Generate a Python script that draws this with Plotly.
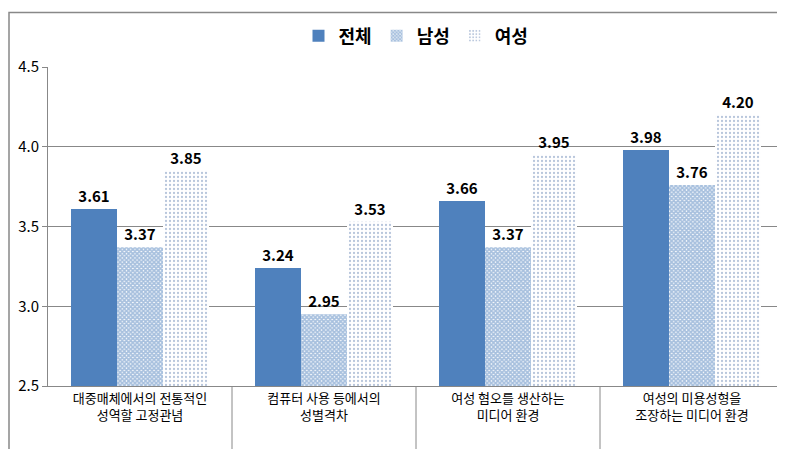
import plotly.graph_objects as go

categories = ["대중매체에서의 전통적인<br>성역할 고정관념", "컴퓨터 사용 등에서의<br>성별격차",
              "여성 혐오를 생산하는<br>미디어 환경", "여성의 미용성형을<br>조장하는 미디어 환경"]
total = [3.61, 3.24, 3.66, 3.98]
male = [3.37, 2.95, 3.37, 3.76]
female = [3.85, 3.53, 3.95, 4.20]

blue = "#4F81BD"
fnt = dict(family="Malgun Gothic, Noto Sans CJK KR, sans-serif", color="black")

fig = go.Figure()
fig.add_bar(name="<b>전체</b>", x=categories, y=total, marker_color=blue,
            text=[f"<b>{v:.2f}</b>" for v in total])
fig.add_bar(name="<b>남성</b>", x=categories, y=male,
            marker=dict(color="white", pattern=dict(shape="x", fgcolor=blue, bgcolor="white",
                                                    size=3, solidity=0.8)),
            text=[f"<b>{v:.2f}</b>" for v in male])
fig.add_bar(name="<b>여성</b>", x=categories, y=female,
            marker=dict(color="white", pattern=dict(shape=".", fgcolor="#6F8BB8", bgcolor="white",
                                                    size=4, solidity=0.25)),
            text=[f"<b>{v:.2f}</b>" for v in female])
fig.update_traces(textposition="outside", cliponaxis=False, marker_line_width=0,
                  textfont=dict(size=15, family=fnt["family"], color="black"))

fig.update_layout(
    width=785, height=449, barmode="group", bargap=0.25, bargroupgap=0,
    plot_bgcolor="white", paper_bgcolor="white", font=dict(size=13, **fnt),
    margin=dict(l=40, r=9, t=56, b=71),
    legend=dict(orientation="h", x=0.5, xanchor="center", y=1.155, yanchor="top",
                bgcolor="rgba(0,0,0,0)", font=dict(size=18, **fnt)),
    xaxis=dict(showline=True, linecolor="#888", ticks="outside", tickcolor="#888", ticklen=0,
               tickfont=dict(size=13, **fnt)),
    yaxis=dict(range=[2.5, 4.5], dtick=0.5, tickformat=".1f", showgrid=True, gridcolor="#888",
               showline=True, linecolor="#888", ticks="outside", tickcolor="#888",
               tickfont=dict(size=15, **fnt)),
    shapes=[dict(type="rect", xref="paper", yref="paper", x0=-39/736, x1=1 + 8/736,
                 y0=-70/322, y1=1 + 55/322, line=dict(color="#888", width=1.5))]
    + [dict(type="line", xref="paper", yref="paper", x0=i/4, x1=i/4, y0=0, y1=-0.2,
            line=dict(color="#888", width=1)) for i in range(1, 4)],
)
fig.write_html("out.html")
